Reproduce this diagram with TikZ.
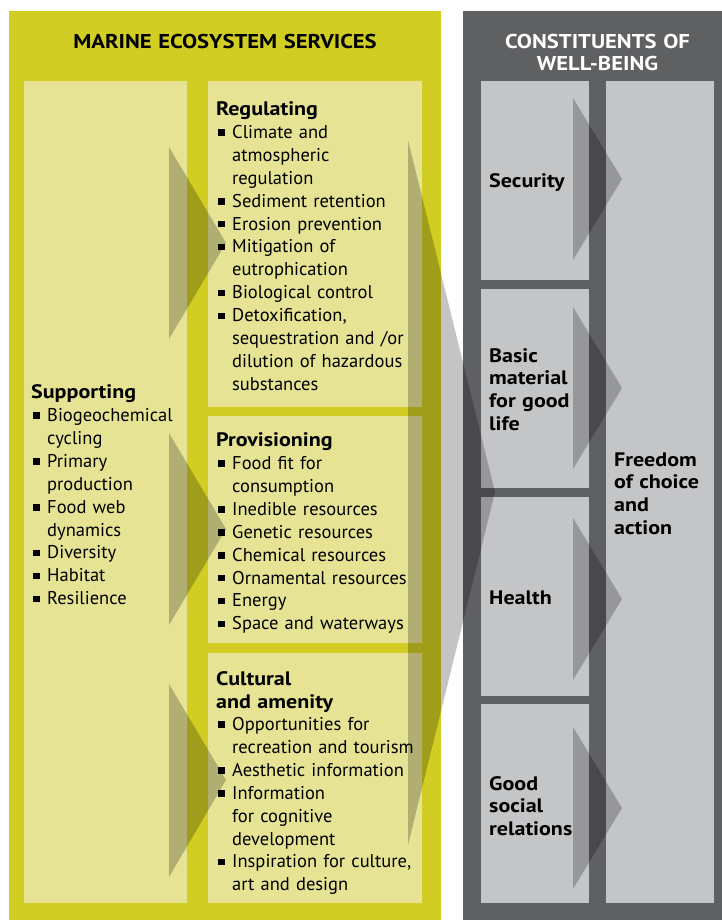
\documentclass[tikz,border=0pt]{standalone}
\usepackage{fontspec}
\setmainfont{PT Sans}
\newfontfamily\hbold{PT Sans Bold}[FakeStretch=1.13]
\definecolor{ypanel}{HTML}{D1CD22}
\definecolor{ybox}{HTML}{E6E494}
\definecolor{gpanel}{HTML}{5F6062}
\definecolor{gbox}{HTML}{C4C5C7}
\newcommand\bl{\makebox[14pt][l]{\raisebox{2.6pt}{\rule{6.5pt}{6.5pt}}}}
\newcommand\ind{\hspace*{14pt}}
\tikzset{
  panelY/.style={fill=ypanel},
  panelG/.style={fill=gpanel},
  yb/.style={fill=ybox, draw=none, inner sep=0, anchor=north west},
  gb/.style={fill=gbox, draw=none, inner sep=0, anchor=north west},
  arr/.style={fill=black, fill opacity=0.23},
  txt/.style={inner sep=0, anchor=base west, align=left, text width=260pt,
    font=\fontsize{18.5}{22.9}\selectfont},
  hd/.style={inner sep=0, anchor=base west, align=left, text width=120pt,
    font=\fontsize{19.5}{22.9}\selectfont\hbold},
  ttl/.style={inner sep=0, anchor=base, align=center, text width=420pt,
    font=\fontsize{20}{22}\selectfont\hbold}
}
\begin{document}
\begin{tikzpicture}[x=1pt,y=-1pt]
\useasboundingbox (0,0) rectangle (721,920);
% panels
\fill[panelY] (9,11) rectangle (441,925);
\fill[panelG] (463,11) rectangle (732,925);
% titles
\node[ttl] (t1) at (225,49) {MARINE ECOSYSTEM SERVICES};
\node[ttl, text=white] (t2) at (597.5,49) {CONSTITUENTS OF\\WELL-BEING};
% yellow boxes
\node[yb, minimum width=163pt, minimum height=822pt] (sup) at (24,81) {};
\node[yb, minimum width=214pt, minimum height=326pt] (reg) at (208,81) {};
\node[yb, minimum width=214pt, minimum height=227pt] (pro) at (208,416) {};
\node[yb, minimum width=214pt, minimum height=250pt] (cul) at (208,653) {};
% gray boxes
\node[gb, minimum width=108pt, minimum height=199pt] (sec) at (481,81) {};
\node[gb, minimum width=108pt, minimum height=199pt] (bas) at (481,289) {};
\node[gb, minimum width=108pt, minimum height=199pt] (hea) at (481,497) {};
\node[gb, minimum width=108pt, minimum height=199pt] (soc) at (481,704) {};
\node[gb, minimum width=108pt, minimum height=822pt] (fre) at (606,81) {};
% arrows
\fill[arr] (169,147) -- (226,243) -- (169,339) -- cycle;
\fill[arr] (169,433) -- (226,529) -- (169,625) -- cycle;
\fill[arr] (169,684) -- (226,780) -- (169,877) -- cycle;
\fill[arr] (408,140) -- (495,492) -- (408,845) -- cycle;
\fill[arr] (573,98) -- (622,179) -- (573,260) -- cycle;
\fill[arr] (573,307) -- (622,388) -- (573,469) -- cycle;
\fill[arr] (573,518) -- (622,599) -- (573,680) -- cycle;
\fill[arr] (573,727) -- (622,808) -- (573,889) -- cycle;
% texts yellow
\node[hd] (regh) at (216,115.5) {Regulating};
\node[txt] (regt) at (218,138.5) {\bl Climate and\\\ind atmospheric\\\ind regulation\\\bl Sediment retention\\\bl Erosion prevention\\\bl Mitigation of\\\ind eutrophication\\\bl Biological control\\\bl Detoxification,\\\ind sequestration and /or\\\ind dilution of hazardous\\\ind substances};
\node[hd] (proh) at (216,446.5) {Provisioning};
\node[txt] (prot) at (218,469.5) {\bl Food fit for\\\ind consumption\\\bl Inedible resources\\\bl Genetic resources\\\bl Chemical resources\\\bl Ornamental resources\\\bl Energy\\\bl Space and waterways};
\node[hd] (culh) at (216,685.5) {Cultural\\and amenity};
\node[txt] (cult) at (218,730.5) {\bl Opportunities for\\\ind recreation and tourism\\\bl Aesthetic information\\\bl Information\\\ind for cognitive\\\ind development\\\bl Inspiration for culture,\\\ind art and design};
\node[hd] (suph) at (31,398.5) {Supporting};
\node[txt] (supt) at (33,421.5) {\bl Biogeochemical\\\ind cycling\\\bl Primary\\\ind production\\\bl Food web\\\ind dynamics\\\bl Diversity\\\bl Habitat\\\bl Resilience};
% texts gray
\node[hd] (secl) at (489,188) {Security};
\node[hd] (basl) at (489,362) {Basic\\material\\for good\\life};
\node[hd] (heal) at (489,604) {Health};
\node[hd] (socl) at (489,790) {Good\\social\\relations};
\node[hd] (frel) at (614,466) {Freedom\\of choice\\and\\action};
\end{tikzpicture}
\end{document}
